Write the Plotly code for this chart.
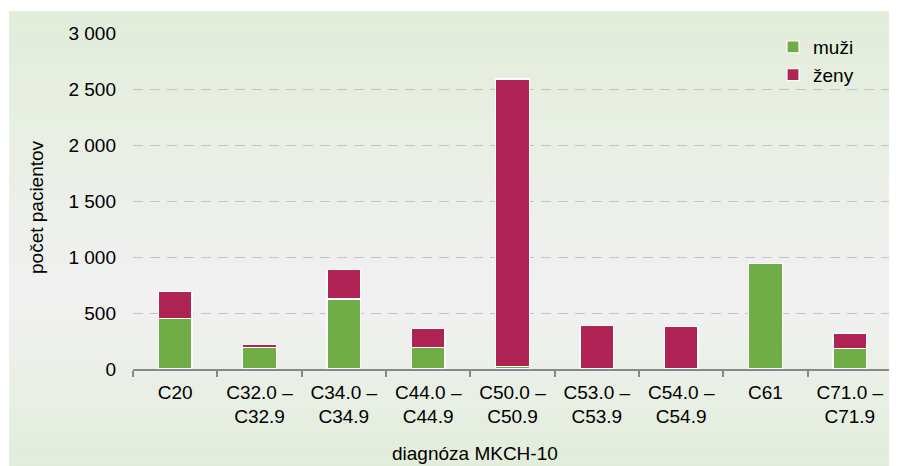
import plotly.graph_objects as go

categories = ["C20", "C32.0 –<br>C32.9", "C34.0 –<br>C34.9", "C44.0 –<br>C44.9",
              "C50.0 –<br>C50.9", "C53.0 –<br>C53.9", "C54.0 –<br>C54.9", "C61",
              "C71.0 –<br>C71.9"]
muzi = [450, 195, 625, 195, 20, 3, 3, 945, 180]
zeny = [240, 25, 265, 168, 2570, 385, 380, 0, 140]
ytick_vals = [0, 500, 1000, 1500, 2000, 2500, 3000]
ytick_text = ["0", "500", "1 000", "1 500", "2 000", "2 500", "3 000"]

OFF = 8  # page body margin
W, H = 897 - OFF, 466 - OFF
L, R, T, B = 133 - OFF, 5, 32 - OFF, 97
PW, PH = W - L - R, H - T - B
YMAX = 3000 * (369 - 32) / (369 - 33)


def px_x(p):  # screen pixel -> paper
    return (p - OFF - L) / PW


def px_y(p):
    return (H - B - (p - OFF)) / PH


FONT = "Liberation Sans, Arial, sans-serif"
GREEN = "#70ad47"
MAG = "#b02355"

fig = go.Figure()
fig.add_trace(go.Bar(x=categories, y=muzi, name="muži",
                     marker=dict(color=GREEN, line=dict(color="white", width=1.2)), width=0.4))
fig.add_trace(go.Bar(x=categories, y=zeny, name="ženy",
                     marker=dict(color=MAG, line=dict(color="white", width=1.2)), width=0.4))

# background gradient
shapes = []
top, bot, mid = 11, 470, 300
c_edge = (226, 237, 218)
c_mid = (241, 241, 241)
n = 60
for i in range(n):
    y0 = top + (bot - top) * i / n
    y1 = top + (bot - top) * (i + 1) / n
    yc = (y0 + y1) / 2
    if yc < mid:
        t = (yc - top) / (mid - top)
    else:
        t = (bot - yc) / (bot - mid)
    c = tuple(round(c_edge[k] + (c_mid[k] - c_edge[k]) * t) for k in range(3))
    shapes.append(dict(type="rect", xref="paper", yref="paper", x0=px_x(9), x1=px_x(900),
                       y0=px_y(y1 + 0.5), y1=px_y(y0), fillcolor="rgb(%d,%d,%d)" % c,
                       line=dict(width=0), layer="below"))

fig.update_layout(
    width=W, height=H,
    margin=dict(l=L, r=R, t=T, b=B),
    paper_bgcolor="white", plot_bgcolor="rgba(0,0,0,0)",
    barmode="stack",
    shapes=shapes,
    font=dict(family=FONT, size=19, color="#000000"),
    showlegend=True,
    legend=dict(x=px_x(773), y=px_y(28), xanchor="left", yanchor="top",
                bgcolor="rgba(0,0,0,0)", font=dict(size=19), tracegroupgap=0,
                itemwidth=30, traceorder="normal"),
    xaxis=dict(range=[-0.5, 8.5], showgrid=False, showline=True, linecolor="#888888", linewidth=1.5,
               ticks="outside", tickson="boundaries", ticklen=6, tickcolor="#888888", tickwidth=1.5,
               ticklabelstandoff=5, tickfont=dict(size=19)),
    yaxis=dict(range=[0, YMAX], tickvals=ytick_vals, ticktext=ytick_text, showline=False,
               gridcolor="#c4c4c4", griddash="10px,7px", gridwidth=1.3, zeroline=False,
               ticks="", ticklabelstandoff=16, tickfont=dict(size=19)),
    annotations=[
        dict(text="diagnóza MKCH-10", xref="paper", yref="paper", x=px_x(475), y=px_y(453),
             xanchor="center", yanchor="middle", showarrow=False, font=dict(size=19)),
        dict(text="počet pacientov", xref="paper", yref="paper", x=px_x(36), y=px_y(207),
             xanchor="center", yanchor="middle", showarrow=False, textangle=-90, font=dict(size=19)),
    ],
)

fig.write_html("out.html")
